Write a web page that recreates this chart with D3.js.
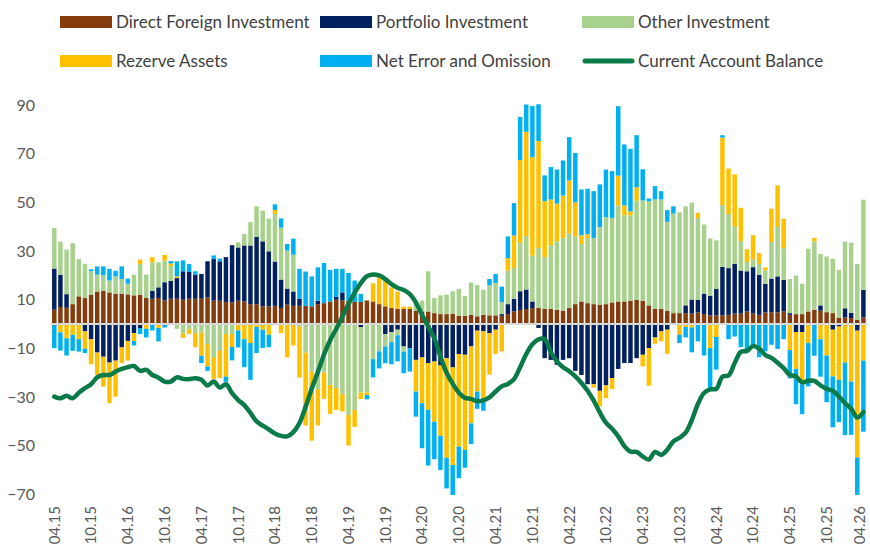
<!DOCTYPE html>
<html>
<head>
<meta charset="utf-8">
<script src="https://cdn.jsdelivr.net/npm/d3@7"></script>
<style>
  body { margin: 0; background: #fff; }
  svg { display: block; font-family: Lato, "Open Sans", sans-serif; }
</style>
</head>
<body>
<div id="chart"></div>
<script>
// Monthly balance of payments, 04.15 - 04.26 (bn USD, 12m rolling)
const startYear = 2015, startMonth = 4, monthCount = 133;

const seriesNames = ['Direct Foreign Investment', 'Portfolio Investment', 'Other Investment',
    'Rezerve Assets', 'Net Error and Omission', 'Current Account Balance'];

const directForeign = [
    5.9, 7.0, 6.7, 8.2, 11.4, 10.7, 12.1, 13.4, 13.7, 13.0,
    12.5, 12.5, 12.2, 11.8, 12.1, 10.7, 10.4, 10.7, 9.7, 10.4,
    10.4, 10.0, 10.4, 10.4, 10.4, 11.0, 9.6, 9.6, 9.1, 8.9,
    9.6, 9.3, 8.2, 8.2, 7.3, 7.3, 7.5, 6.6, 8.0, 7.5,
    7.5, 7.5, 7.3, 8.2, 8.6, 9.3, 10.0, 9.7, 9.6, 9.1,
    9.1, 9.7, 9.3, 8.2, 7.3, 6.6, 6.3, 6.2, 6.2, 5.5,
    5.2, 5.2, 4.5, 4.1, 4.1, 4.3, 3.4, 3.4, 3.8, 3.2,
    3.8, 3.6, 3.6, 3.4, 4.1, 5.2, 5.8, 6.2, 6.6, 6.6,
    6.2, 6.2, 5.9, 5.5, 6.6, 8.2, 9.3, 8.6, 8.2, 8.0,
    8.2, 8.9, 9.3, 9.3, 9.6, 10.0, 9.6, 7.7, 6.3, 6.3,
    5.5, 4.5, 4.5, 4.5, 4.3, 4.8, 4.1, 3.6, 3.6, 3.6,
    3.8, 4.3, 4.3, 5.2, 4.3, 3.8, 4.8, 4.8, 4.8, 5.2,
    3.8, 4.1, 4.1, 5.2, 5.9, 5.5, 4.9, 4.5, 2.7, 2.7,
    2.5, 1.8, 2.7
];

const portfolio = [
    16.9, 13.2, 5.6, 0, 0, -3.0, -6.2, -11.7, -13.4, -15.8,
    -15.0, -9.6, -6.9, -3.7, -1.6, 0, 3.3, 4.4, 7.5, 7.3,
    8.5, 11.7, 11.0, 9.9, 10.2, 14.8, 17.1, 16.2, 18.4, 23.5,
    21.9, 23.0, 24.1, 27.6, 26.7, 22.6, 18.2, 11.7, 6.6, 5.9,
    2.9, 0, 0, 1.4, 0, 0, 1.2, 3.3, 0, 0,
    -1.2, 0, 0, 0, -4.1, -3.3, -2.3, -9.2, -9.9, -14.7,
    -13.7, -16.0, -15.4, -17.0, -14.0, -17.8, -12.3, -12.6, -9.2, -2.7,
    -3.0, -3.7, -2.3, 0.7, 4.1, 5.2, 7.7, 8.0, 2.7, -1.6,
    -14.0, -14.7, -16.7, -14.7, -14.0, -19.2, -20.9, -24.7, -24.7, -27.4,
    -25.2, -22.2, -18.4, -16.0, -16.0, -14.0, -12.6, -9.9, -5.5, -3.0,
    -2.3, 0, 0, 3.2, 5.8, 5.2, 8.4, 8.1, 10.8, 19.9,
    19.2, 20.4, 17.7, 16.5, 19.1, 16.5, 11.8, 13.9, 14.8, 13.0,
    0.7, -3.3, -3.3, -0.5, 0, 2.2, 0, -2.3, -1.0, 3.8,
    2.1, -2.7, 11.4
];

const otherInvestment = [
    16.7, 13.7, 18.3, 25.0, 15.3, 14.0, 9.6, 6.9, 6.3, 4.9,
    7.1, 6.0, 4.4, 8.5, 12.6, 9.6, 11.7, 10.3, 8.9, 6.2,
    -1.9, -3.8, -2.1, -3.7, -3.4, -8.2, -13.6, -11.0, -4.0, -4.1,
    2.1, 4.7, 9.6, 12.6, 12.6, 13.4, 19.6, 21.3, 15.6, 15.1,
    -1.0, -11.7, -19.5, -26.7, -19.9, -25.0, -26.3, -28.8, -37.3, -35.3,
    -26.9, -28.1, -14.4, -11.2, -5.1, -4.1, -2.3, -2.1, 0, 4.1,
    4.4, 16.5, 6.2, 7.7, 8.0, 9.2, 11.0, 8.2, 13.3, 12.8,
    10.3, 12.3, 13.3, 4.9, 13.7, 12.6, 19.9, 21.9, 18.8, 24.7,
    21.3, 26.2, 28.1, 29.9, 30.5, 27.8, 23.6, 26.7, 27.2, 31.8,
    35.7, 34.7, 39.4, 35.4, 35.1, 40.7, 41.2, 42.8, 44.9, 44.9,
    36.5, 40.9, 41.4, 40.7, 39.8, 33.6, 28.4, 23.5, 20.0, 25.4,
    22.2, 15.5, 12.1, 3.8, 3.2, 4.4, 5.5, 15.0, 20.3, 13.0,
    14.0, 15.8, 12.5, 25.8, 28.1, 21.1, 22.9, 22.4, 19.6, 27.4,
    28.8, 22.9, 37.0
];

const reserveAssets = [
    0, -3.4, -5.8, -4.4, -6.2, -7.1, -10.3, -9.2, -12.3, -16.7,
    -14.8, -6.4, -8.1, -3.2, 1.8, -1.9, 2.1, -1.6, 2.3, 1.0,
    0.7, -1.9, -1.9, -5.8, -9.6, -9.2, -8.9, -11.2, -17.6, -5.3,
    -2.6, -6.2, -7.8, -1.2, -2.3, -4.4, 1.6, -3.7, -13.7, -8.8,
    -21.0, -30.0, -28.4, -15.0, -10.8, -11.9, -8.9, -7.1, -12.6, -6.9,
    -2.7, -1.0, 7.5, 11.5, 11.0, 8.5, 7.1, 1.0, 1.0, -13.0,
    -18.8, -19.2, -24.7, -28.9, -40.9, -40.1, -38.0, -39.1, -31.6, -25.0,
    -27.4, -17.1, -10.0, -11.2, 5.2, 13.4, 34.0, 42.9, 40.5, 43.9,
    23.0, 18.8, 15.5, 17.4, 21.9, 14.0, 3.6, 1.6, -1.4, -6.4,
    -5.2, -4.5, 12.3, 4.0, 1.6, 5.5, -4.8, -15.4, -2.6, -4.1,
    -9.9, 0, -4.4, -1.2, -1.4, 2.1, 0, -9.9, -5.3, 27.7,
    18.7, 21.3, 13.7, 5.3, 9.9, 4.5, 1.2, 13.7, 17.1, 12.1,
    -10.6, -15.1, -21.4, -7.3, 1.4, -6.2, -12.9, -19.2, -21.9, -15.8,
    -23.6, -52.1, -15.0
];

const netError = [
    -9.9, -7.5, -7.1, -6.6, -5.1, -1.8, 0.8, 3.4, 3.7, 4.8,
    2.3, 5.2, 2.1, -1.9, -2.5, -3.6, -2.6, -5.5, -1.4, 1.0,
    6.2, 4.5, 3.3, 1.4, -3.0, -1.8, 1.5, 1.1, -2.1, -5.5,
    -7.0, -11.5, -15.1, -10.7, -7.5, -5.1, 2.3, 3.8, 2.7, 6.6,
    12.3, 14.1, 12.3, 13.7, 16.5, 13.0, 11.5, 9.7, 11.4, 8.8,
    3.3, -1.8, -7.5, -7.0, -6.9, -9.1, -10.7, -8.9, -9.6, -10.3,
    -18.5, -22.9, -15.4, -14.0, -12.6, -12.3, -13.0, -7.3, -8.5, -7.1,
    -5.2, 2.6, 3.7, 6.4, 8.9, 13.3, 17.7, 11.2, 21.0, 15.1,
    10.6, 13.3, 14.0, 14.4, 17.8, 20.3, 18.8, 18.7, 19.2, 17.6,
    19.6, 19.2, 28.5, 25.1, 25.7, 21.4, 12.8, 1.1, 5.5, 3.4,
    4.8, 3.0, -3.4, -4.3, -10.2, -7.1, -12.9, -16.5, -13.4, 1.0,
    -6.2, -5.1, -9.5, -11.2, -9.5, -13.6, -11.2, -8.5, -10.2, -6.2,
    -11.7, -14.5, -12.3, -17.8, -13.0, -15.4, -19.2, -20.9, -17.4, -29.8,
    -21.9, -15.4, -29.2
];

const currentAccount = [
    -29.8, -30.5, -29.4, -30.5, -28.2, -26.3, -24.7, -21.9, -20.9, -20.9,
    -19.5, -18.4, -17.7, -17.2, -19.2, -18.8, -20.9, -22.0, -23.6, -23.6,
    -21.9, -22.5, -22.6, -22.2, -22.9, -25.2, -23.6, -26.1, -24.7, -28.4,
    -31.2, -33.3, -36.5, -40.0, -41.7, -43.3, -44.9, -45.9, -46.1, -44.4,
    -40.6, -34.0, -26.5, -19.7, -12.5, -6.6, -2.0, 3.1, 8.2, 12.9,
    16.8, 19.7, 20.4, 20.0, 18.5, 16.4, 14.9, 14.0, 12.3, 8.8,
    3.7, -1.0, -5.9, -13.4, -20.0, -24.5, -28.2, -30.3, -30.7, -31.7,
    -31.3, -30.1, -27.7, -25.6, -24.6, -22.6, -17.7, -12.3, -8.3, -6.3,
    -6.2, -11.5, -15.3, -17.7, -19.4, -21.5, -24.2, -27.4, -31.4, -36.3,
    -40.5, -43.0, -46.1, -50.1, -52.4, -52.5, -54.4, -55.6, -52.5, -53.7,
    -51.6, -48.2, -46.7, -44.6, -39.5, -32.8, -28.3, -26.8, -26.6, -21.6,
    -21.1, -16.0, -11.4, -11.0, -9.0, -10.1, -12.7, -13.9, -15.9, -18.1,
    -20.9, -21.5, -23.9, -23.3, -23.3, -25.2, -26.6, -27.4, -29.8, -32.5,
    -34.8, -38.4, -36.2
];

const yTicks = [90, 70, 50, 30, 10, -10, -30, -50, -70];

// month labels "MM.YY"
const months = d3.range(monthCount).map(i => {
    const m = (startMonth - 1 + i) % 12 + 1;
    const y = startYear + Math.floor((startMonth - 1 + i) / 12);
    return String(m).padStart(2, '0') + '.' + String(y % 100).padStart(2, '0');
});

const colors = ['#843C0C', '#002060', '#A9D18E', '#FFC000', '#00B0F0', '#0A7A48'];
const keys = ['dfi', 'pi', 'oi', 'ra', 'neo'];

const table = months.map((m, i) => ({
    month: m,
    dfi: directForeign[i],
    pi: portfolio[i],
    oi: otherInvestment[i],
    ra: reserveAssets[i],
    neo: netError[i],
    cab: currentAccount[i]
}));

const width = 870, height = 546;

const svg = d3.select('#chart').append('svg')
    .attr('width', width)
    .attr('height', height);

const x = d3.scaleBand()
    .domain(months)
    .range([51.2, 866.5])
    .paddingInner(0.27)
    .paddingOuter(0.14);

const y = d3.scaleLinear()
    .domain([-70, 90])
    .range([494.5, 105]);

// Stacked bars: positives up, negatives down (like Excel)
const stacked = d3.stack()
    .keys(keys)
    .offset(d3.stackOffsetDiverging)(table);

const bars = svg.append('g');
stacked.forEach((layer, k) => {
    bars.append('g')
        .attr('fill', colors[k])
        .selectAll('rect')
        .data(layer.filter(d => d[1] !== d[0]))
        .join('rect')
        .attr('x', d => x(d.data.month))
        .attr('width', x.bandwidth())
        .attr('y', d => y(Math.max(d[0], d[1])))
        .attr('height', d => Math.abs(y(d[0]) - y(d[1])));
});

// zero line
svg.append('line')
    .attr('x1', 51)
    .attr('x2', 867)
    .attr('y1', y(0))
    .attr('y2', y(0))
    .attr('stroke', '#d9d9d9')
    .attr('stroke-width', 2);

// Current account line
const line = d3.line()
    .x(d => x(d.month) + x.bandwidth() / 2)
    .y(d => y(d.cab))
    .curve(d3.curveCatmullRom.alpha(0.5));

svg.append('path')
    .datum(table)
    .attr('fill', 'none')
    .attr('stroke', colors[5])
    .attr('stroke-width', 4.5)
    .attr('stroke-linejoin', 'round')
    .attr('stroke-linecap', 'round')
    .attr('d', line);

// Y axis
const yAxis = svg.append('g')
    .attr('transform', 'translate(38,0)')
    .call(d3.axisLeft(y).tickValues(yTicks).tickSize(0).tickPadding(3));
yAxis.select('.domain').remove();
yAxis.selectAll('text')
    .style('font-family', 'Lato, "Open Sans", sans-serif')
    .style('font-size', '16px')
    .attr('fill', '#595959');

// X axis: every 6th month, rotated
const xAxis = svg.append('g')
    .attr('transform', 'translate(0,506)')
    .call(d3.axisBottom(x)
        .tickValues(months.filter((m, i) => i % 6 === 0))
        .tickSize(0)
        .tickPadding(0));
xAxis.select('.domain').remove();
xAxis.selectAll('text')
    .style('font-family', 'Lato, "Open Sans", sans-serif')
    .style('font-size', '15px')
    .attr('fill', '#595959')
    .attr('text-anchor', 'end')
    .attr('transform', 'rotate(-90)')
    .attr('x', 0)
    .attr('y', 0)
    .attr('dy', (d, i, nodes) => i === nodes.length - 1 ? '0.1em' : '0.36em')
    .attr('dx', '0');

// Legend
const legendPos = [
    [60, 22], [320, 22], [582, 22],
    [60, 61], [320, 61], [582, 61]
];
const legend = svg.append('g');
seriesNames.forEach((name, i) => {
    const g = legend.append('g')
        .attr('transform', `translate(${legendPos[i][0]},${legendPos[i][1]})`);
    if (i < 5) {
        g.append('rect')
            .attr('x', 0)
            .attr('y', -6)
            .attr('width', 52)
            .attr('height', 12)
            .attr('fill', colors[i]);
    } else {
        g.append('line')
            .attr('x1', 3)
            .attr('x2', 50)
            .attr('y1', 0)
            .attr('y2', 0)
            .attr('stroke', colors[i])
            .attr('stroke-width', 5)
            .attr('stroke-linecap', 'round');
    }
    g.append('text')
        .attr('x', 56)
        .attr('y', 0)
        .attr('dy', '0.35em')
        .style('font-size', '17px')
        .attr('fill', '#404040')
        .text(name);
});
</script>
</body>
</html>
